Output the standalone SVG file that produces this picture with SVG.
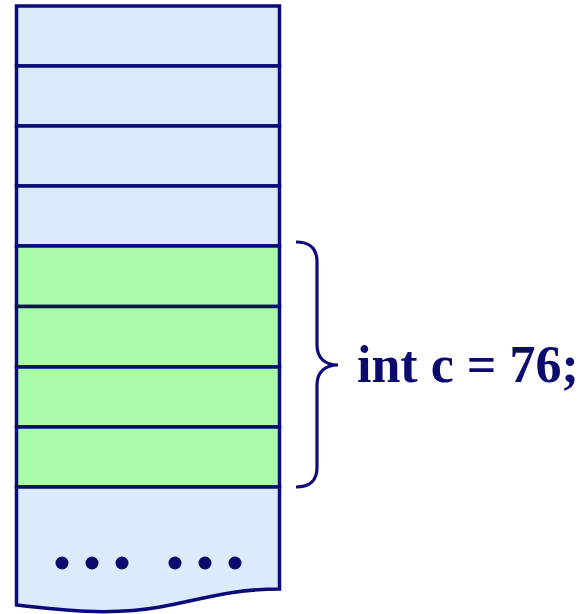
<svg xmlns="http://www.w3.org/2000/svg" width="583" height="614" viewBox="0 0 583 614">
<style>
.blue{fill:#dbebfb;stroke:#0b0b7a;stroke-width:3.5}
.green{fill:#a9fca7;stroke:#0b0b7a;stroke-width:3.5}
.dot{fill:#0b0b6e}
.lbl{font-family:"Liberation Serif",serif;font-weight:bold;font-size:52px;fill:#0b0b6e}
</style>
<rect width="583" height="614" fill="#ffffff"/>
<g id="cell1"><rect class="blue" x="16.5" y="6" width="263" height="60"/></g>
<g id="cell2"><rect class="blue" x="16.5" y="66" width="263" height="60"/></g>
<g id="cell3"><rect class="blue" x="16.5" y="126" width="263" height="60"/></g>
<g id="cell4"><rect class="blue" x="16.5" y="186" width="263" height="60"/></g>
<g id="cell5"><rect class="green" x="16.5" y="246" width="263" height="60.5"/></g>
<g id="cell6"><rect class="green" x="16.5" y="306.5" width="263" height="60.5"/></g>
<g id="cell7"><rect class="green" x="16.5" y="367" width="263" height="60"/></g>
<g id="cell8"><rect class="green" x="16.5" y="427" width="263" height="60"/></g>
<g id="cell9">
<path class="blue" d="M16.5,487 H279.5 V589 C230,589 200,600 160,607 C110,616 60,610 16.5,605 Z"/>
<circle class="dot" cx="62" cy="563" r="6.5"/>
<circle class="dot" cx="92" cy="563" r="6.5"/>
<circle class="dot" cx="122" cy="563" r="6.5"/>
<circle class="dot" cx="175" cy="563" r="6.5"/>
<circle class="dot" cx="205" cy="563" r="6.5"/>
<circle class="dot" cx="235" cy="563" r="6.5"/>
</g>
<g id="connectors">
<path d="M296,242 C310,242 317,248 317,262 V345 C317,358 325,365 338,365 C325,365 317,372 317,385 V467 C317,481 310,487 296,487" fill="none" stroke="#0b0b7a" stroke-width="3.2"/>
</g>
<g id="label"><text class="lbl" x="357" y="382">int c = 76;</text></g>
</svg>
